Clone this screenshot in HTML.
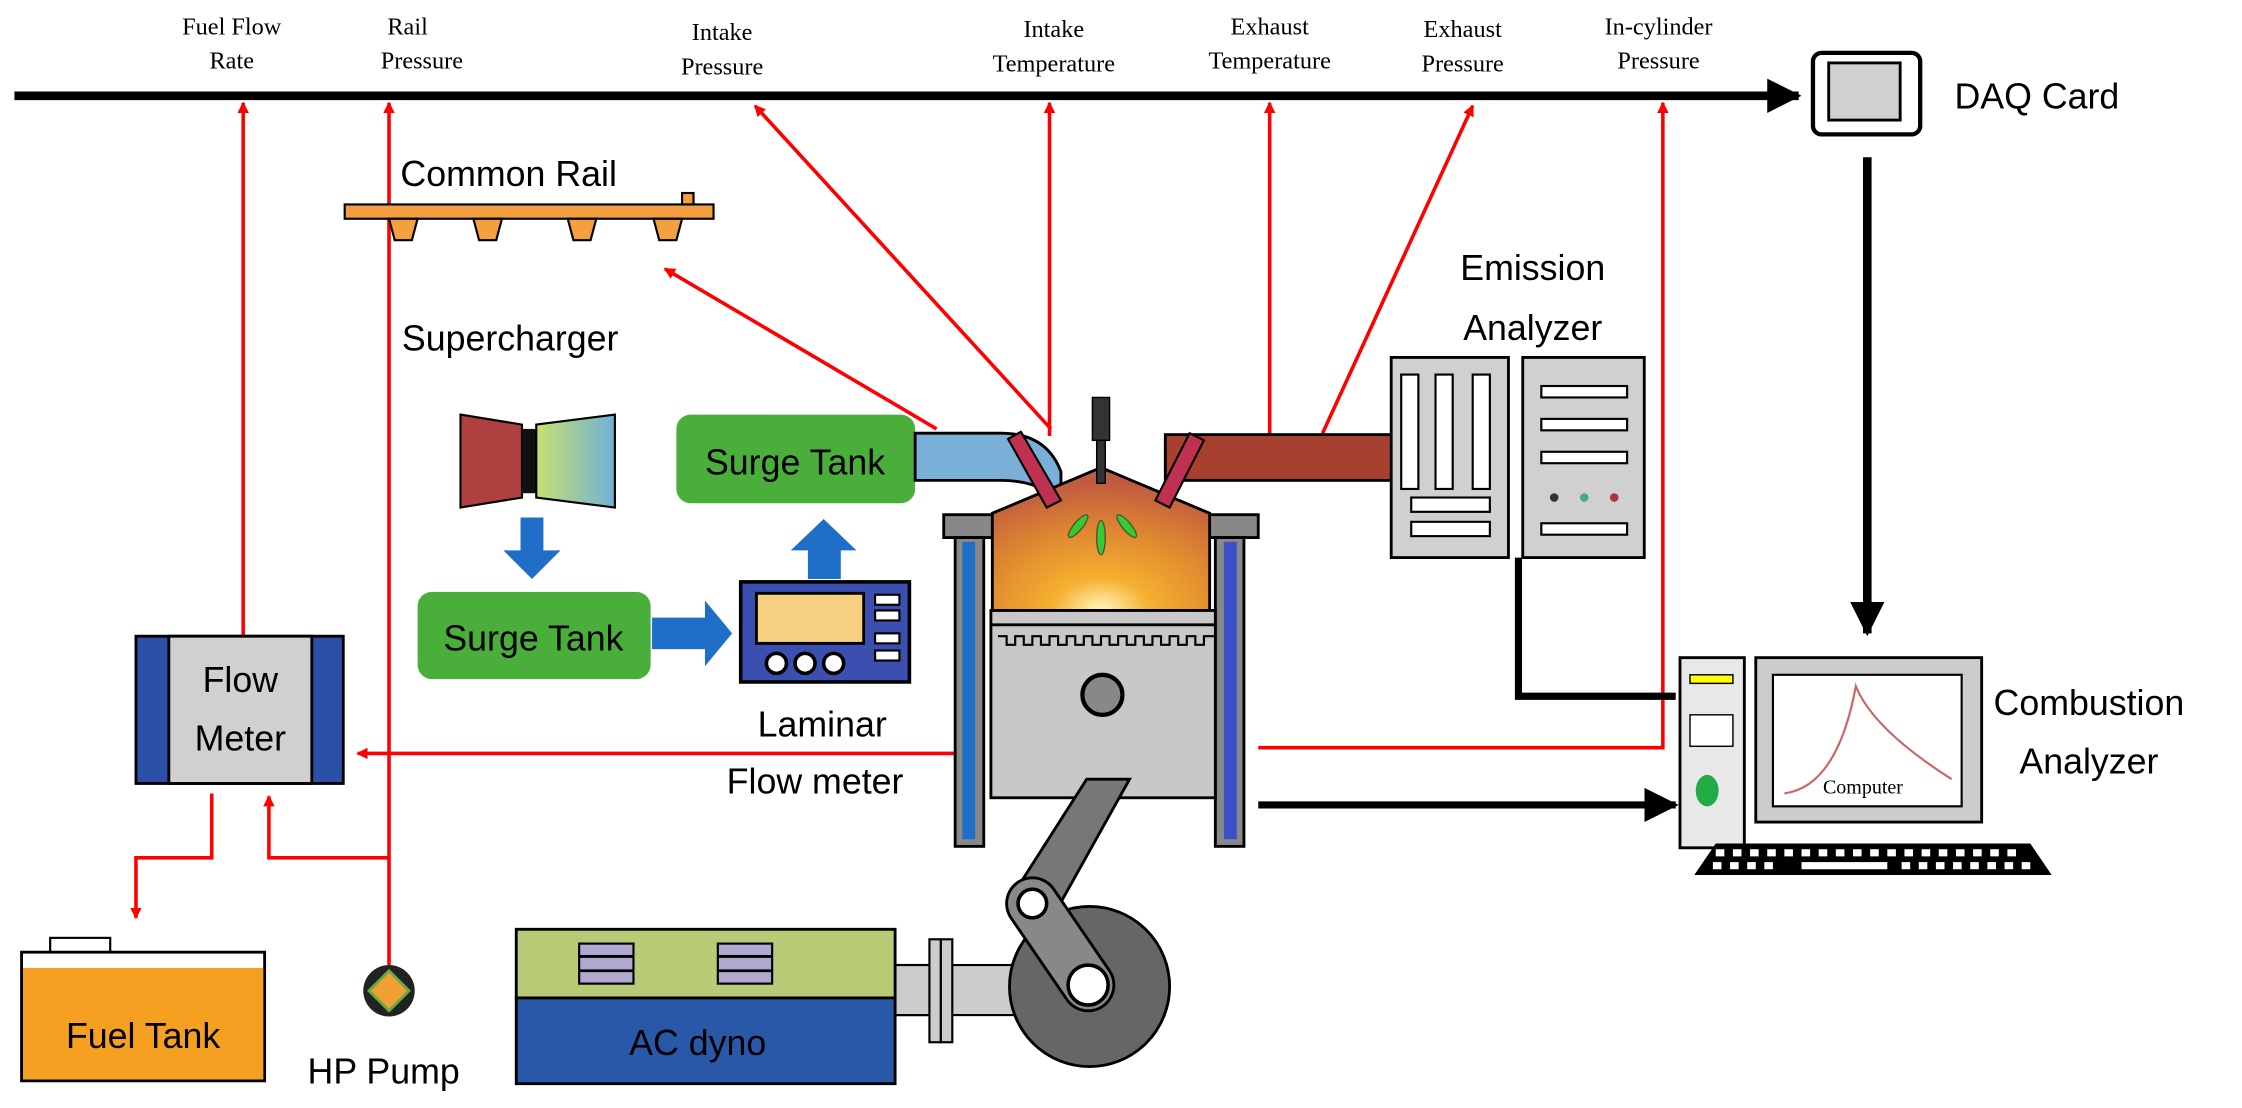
<!DOCTYPE html>
<html><head><meta charset="utf-8"><style>
html,body{margin:0;padding:0;background:#fff;}
svg{display:block}
.s{font-family:"Liberation Serif",serif;font-size:17px;fill:#000}
.t{font-family:"Liberation Sans",sans-serif;font-size:25px;fill:#000}
</style></head><body>
<svg width="2242" height="1108" viewBox="0 0 1568 775" xmlns="http://www.w3.org/2000/svg">
<defs>
<marker id="ra" markerWidth="8" markerHeight="8" refX="7" refY="4" orient="auto" markerUnits="userSpaceOnUse"><path d="M0,0 L8,4 L0,8 Z" fill="#f00"/></marker>
<marker id="ba" markerWidth="24" markerHeight="24" refX="22" refY="12" orient="auto" markerUnits="userSpaceOnUse"><path d="M0,0 L24,12 L0,24 Z" fill="#000"/></marker>
<radialGradient id="fire" cx="0.5" cy="1" r="0.9"><stop offset="0" stop-color="#fff8c0"/><stop offset="0.25" stop-color="#f5b030"/><stop offset="0.6" stop-color="#e08a30"/><stop offset="1" stop-color="#c05a40"/></radialGradient>
<linearGradient id="sc" x1="0" x2="1"><stop offset="0" stop-color="#c8e070"/><stop offset="1" stop-color="#70b0d8"/></linearGradient>
</defs>

<text class="s" x="162" y="24" text-anchor="middle">Fuel Flow</text>
<text class="s" x="162" y="48" text-anchor="middle">Rate</text>
<text class="s" x="285" y="24" text-anchor="middle">Rail</text>
<text class="s" x="295" y="48" text-anchor="middle">Pressure</text>
<text class="s" x="505" y="28" text-anchor="middle">Intake</text>
<text class="s" x="505" y="52" text-anchor="middle">Pressure</text>
<text class="s" x="737" y="26" text-anchor="middle">Intake</text>
<text class="s" x="737" y="50" text-anchor="middle">Temperature</text>
<text class="s" x="888" y="24" text-anchor="middle">Exhaust</text>
<text class="s" x="888" y="48" text-anchor="middle">Temperature</text>
<text class="s" x="1023" y="26" text-anchor="middle">Exhaust</text>
<text class="s" x="1023" y="50" text-anchor="middle">Pressure</text>
<text class="s" x="1160" y="24" text-anchor="middle">In-cylinder</text>
<text class="s" x="1160" y="48" text-anchor="middle">Pressure</text>

<line x1="10" y1="67" x2="1258" y2="67" stroke="#000" stroke-width="6" marker-end="url(#ba)"/>

<rect x="1268" y="37" width="75" height="57" rx="6" fill="#fff" stroke="#000" stroke-width="3"/>
<rect x="1279" y="44" width="50" height="40" fill="#d0d0d0" stroke="#000" stroke-width="2"/>
<text class="t" x="1367" y="76">DAQ Card</text>
<line x1="1306" y1="110" x2="1306" y2="443" stroke="#000" stroke-width="6" marker-end="url(#ba)"/>

<g stroke="#f00" stroke-width="2.5" fill="none">
<line x1="170" y1="445" x2="170" y2="72" marker-end="url(#ra)"/>
<line x1="272" y1="675" x2="272" y2="72" marker-end="url(#ra)"/>
<line x1="735" y1="300" x2="528" y2="74" marker-end="url(#ra)"/>
<line x1="734" y1="305" x2="734" y2="72" marker-end="url(#ra)"/>
<line x1="888" y1="303" x2="888" y2="72" marker-end="url(#ra)"/>
<line x1="925" y1="303" x2="1030" y2="74" marker-end="url(#ra)"/>
<polyline points="880,523 1163,523 1163,72" marker-end="url(#ra)"/>
<line x1="655" y1="300" x2="465" y2="188" marker-end="url(#ra)"/>
<line x1="680" y1="527" x2="250" y2="527" marker-end="url(#ra)"/>
<polyline points="148,555 148,600 95,600 95,642" marker-end="url(#ra)"/>
<polyline points="272,600 188,600 188,557" marker-end="url(#ra)"/>
</g>

<text class="t" x="280" y="130">Common Rail</text>
<rect x="241" y="143" width="258" height="10" fill="#f5a040" stroke="#000" stroke-width="1.5"/>
<rect x="477" y="135" width="8" height="8" fill="#f5a040" stroke="#000" stroke-width="1.5"/>
<g fill="#f5a040" stroke="#000" stroke-width="1.5">
<path d="M272,153 L292,153 L288,168 L276,168 Z"/>
<path d="M331,153 L351,153 L347,168 L335,168 Z"/>
<path d="M397,153 L417,153 L413,168 L401,168 Z"/>
<path d="M457,153 L477,153 L473,168 L461,168 Z"/>
</g>

<text class="t" x="281" y="245">Supercharger</text>
<path d="M322,290 L365,297 L365,348 L322,355 Z" fill="#b04040" stroke="#000" stroke-width="1.5"/>
<rect x="365" y="300" width="10" height="45" fill="#111"/>
<path d="M375,297 L430,290 L430,355 L375,348 Z" fill="url(#sc)" stroke="#000" stroke-width="1.5"/>
<path d="M364,362 L380,362 L380,385 L392,385 L372,405 L352,385 L364,385 Z" fill="#1f6fc8"/>

<rect x="292" y="414" width="163" height="61" rx="10" fill="#4aae3a"/>
<text class="t" x="373" y="455" text-anchor="middle">Surge Tank</text>
<path d="M456,432 L493,432 L493,420 L512,443 L493,466 L493,454 L456,454 Z" fill="#1f6fc8"/>
<rect x="473" y="290" width="167" height="62" rx="10" fill="#4aae3a"/>
<text class="t" x="556" y="332" text-anchor="middle">Surge Tank</text>
<path d="M565,405 L565,385 L553,385 L576,363 L599,385 L588,385 L588,405 Z" fill="#1f6fc8"/>

<rect x="518" y="407" width="118" height="70" fill="#3a4fb0" stroke="#000" stroke-width="2.5"/>
<rect x="529" y="415" width="75" height="35" fill="#f7cf80" stroke="#000" stroke-width="2"/>
<g fill="#fff" stroke="#000" stroke-width="2.5"><circle cx="543" cy="464" r="7"/><circle cx="563" cy="464" r="7"/><circle cx="583" cy="464" r="7"/></g>
<g fill="#fff" stroke="#000" stroke-width="1.5"><rect x="612" y="416" width="17" height="7"/><rect x="612" y="427" width="17" height="7"/><rect x="612" y="443" width="17" height="7"/><rect x="612" y="455" width="17" height="7"/></g>
<text class="t" x="575" y="515" text-anchor="middle">Laminar</text>
<text class="t" x="570" y="555" text-anchor="middle">Flow meter</text>

<!-- intake pipe -->
<path d="M640,303 L700,303 Q732,303 742,330 L742,352 Q728,336 700,336 L640,336 Z" fill="#7ab0d8" stroke="#000" stroke-width="2"/>
<!-- exhaust pipe -->
<rect x="815" y="304" width="160" height="32" fill="#a84030" stroke="#000" stroke-width="2"/>

<!-- engine -->
<rect x="660" y="360" width="220" height="16" fill="#888" stroke="#000" stroke-width="2"/>
<rect x="668" y="376" width="20" height="216" fill="#888" stroke="#000" stroke-width="2"/>
<rect x="673" y="379" width="9" height="208" fill="#1f6fc8"/>
<rect x="850" y="376" width="20" height="216" fill="#888" stroke="#000" stroke-width="2"/>
<rect x="856" y="379" width="9" height="208" fill="#3a4fc8"/>
<path d="M694,359 L770,327 L846,359 L846,427 L694,427 Z" fill="url(#fire)" stroke="#000" stroke-width="2"/>
<rect x="764" y="278" width="12" height="30" fill="#333" stroke="#000" stroke-width="1"/>
<rect x="767" y="308" width="6" height="30" fill="#333" stroke="#000" stroke-width="1"/>
<path d="M705,307 L714,302 L742,350 L732,355 Z" fill="#c03050" stroke="#000" stroke-width="1.5"/>
<path d="M832,303 L842,308 L818,355 L808,350 Z" fill="#c03050" stroke="#000" stroke-width="1.5"/>
<g fill="#3c3" stroke="#553" stroke-width="1"><ellipse cx="770" cy="376" rx="3" ry="12"/><ellipse cx="754" cy="368" rx="3" ry="10" transform="rotate(40 754 368)"/><ellipse cx="788" cy="368" rx="3" ry="10" transform="rotate(-40 788 368)"/></g>
<rect x="693" y="427" width="157" height="131" fill="#c8c8c8" stroke="#000" stroke-width="2"/>
<line x1="693" y1="437" x2="850" y2="437" stroke="#000" stroke-width="2"/>
<path d="M698,445 h6 v6 h6 v-6 h6 v6 h6 v-6 h6 v6 h6 v-6 h6 v6 h6 v-6 h6 v6 h6 v-6 h6 v6 h6 v-6 h6 v6 h6 v-6 h6 v6 h6 v-6 h6 v6 h6 v-6 h6 v6 h6 v-6 h6 v6 h6 v-6 h6 v6 h6 v-6 h7" fill="none" stroke="#000" stroke-width="1.5"/>
<circle cx="771" cy="486" r="14" fill="#888" stroke="#000" stroke-width="3"/>

<!-- shaft & coupler -->
<rect x="625" y="675" width="115" height="35" fill="#ccc" stroke="#000" stroke-width="1.5"/>
<!-- crank wheel -->
<circle cx="762" cy="690" r="56" fill="#666" stroke="#000" stroke-width="2"/>
<rect x="624" y="675" width="30" height="35" fill="#ccc" stroke="#000" stroke-width="1.5"/>
<rect x="650" y="657" width="8" height="72" fill="#ccc" stroke="#000" stroke-width="1.5"/>
<rect x="658" y="657" width="8" height="72" fill="#ccc" stroke="#000" stroke-width="1.5"/>
<!-- conrod -->
<path d="M760,545 L790,545 L737,640 L707,628 Z" fill="#777" stroke="#000" stroke-width="2"/>
<!-- crank arm -->
<line x1="722" y1="632" x2="761" y2="689" stroke="#000" stroke-width="38" stroke-linecap="round"/>
<line x1="722" y1="632" x2="761" y2="689" stroke="#888" stroke-width="34" stroke-linecap="round"/>
<circle cx="722" cy="632" r="10" fill="#fff" stroke="#000" stroke-width="2.5"/>
<circle cx="761" cy="689" r="14" fill="#fff" stroke="#000" stroke-width="2.5"/>

<rect x="361" y="650" width="265" height="48" fill="#b8cc78" stroke="#000" stroke-width="2"/>
<rect x="361" y="698" width="265" height="60" fill="#2a58a8" stroke="#000" stroke-width="2"/>
<g fill="#b0a8d0" stroke="#000" stroke-width="1.5"><rect x="405" y="660" width="38" height="28"/><rect x="502" y="660" width="38" height="28"/></g>
<g stroke="#000" stroke-width="2"><line x1="405" y1="669" x2="443" y2="669"/><line x1="405" y1="679" x2="443" y2="679"/><line x1="502" y1="669" x2="540" y2="669"/><line x1="502" y1="679" x2="540" y2="679"/></g>
<text class="t" x="440" y="738">AC dyno</text>

<rect x="95" y="445" width="145" height="103" fill="#2a50a8" stroke="#000" stroke-width="2"/>
<rect x="118" y="445" width="100" height="103" fill="#d0d0d0" stroke="#000" stroke-width="2"/>
<text class="t" x="168" y="484" text-anchor="middle">Flow</text>
<text class="t" x="168" y="525" text-anchor="middle">Meter</text>

<rect x="35" y="656" width="42" height="10" fill="#fff" stroke="#000" stroke-width="1.5"/>
<rect x="15" y="666" width="170" height="90" fill="#fff" stroke="#000" stroke-width="2"/>
<rect x="16" y="677" width="168" height="78" fill="#f5a020"/>
<text class="t" x="100" y="733" text-anchor="middle">Fuel Tank</text>

<circle cx="272" cy="693" r="18" fill="#222"/>
<path d="M272,679 L286,693 L272,707 L258,693 Z" fill="#f0a030" stroke="#6a4" stroke-width="2"/>
<text class="t" x="215" y="758">HP Pump</text>

<text class="t" x="1072" y="196" text-anchor="middle">Emission</text>
<text class="t" x="1072" y="238" text-anchor="middle">Analyzer</text>
<rect x="973" y="250" width="82" height="140" fill="#d0d0d0" stroke="#000" stroke-width="2"/>
<g fill="#fff" stroke="#000" stroke-width="1.5"><rect x="980" y="262" width="12" height="80"/><rect x="1004" y="262" width="12" height="80"/><rect x="1030" y="262" width="12" height="80"/><rect x="987" y="348" width="55" height="10"/><rect x="987" y="365" width="55" height="10"/></g>
<rect x="1065" y="250" width="85" height="140" fill="#d0d0d0" stroke="#000" stroke-width="2"/>
<g fill="#fff" stroke="#000" stroke-width="1.5"><rect x="1078" y="270" width="60" height="8"/><rect x="1078" y="293" width="60" height="8"/><rect x="1078" y="316" width="60" height="8"/><rect x="1078" y="366" width="60" height="8"/></g>
<circle cx="1087" cy="348" r="3" fill="#333"/><circle cx="1108" cy="348" r="3" fill="#4a8"/><circle cx="1129" cy="348" r="3" fill="#a34"/>
<polyline points="1062,390 1062,487 1172,487" fill="none" stroke="#000" stroke-width="5"/>
<line x1="880" y1="563" x2="1172" y2="563" stroke="#000" stroke-width="5" marker-end="url(#ba)"/>

<rect x="1175" y="460" width="45" height="133" fill="#e8e8e8" stroke="#000" stroke-width="2"/>
<rect x="1182" y="472" width="30" height="6" fill="#ff0" stroke="#000" stroke-width="1"/>
<rect x="1182" y="500" width="30" height="22" fill="#fff" stroke="#000" stroke-width="1"/>
<ellipse cx="1194" cy="553" rx="8" ry="11" fill="#2a4"/>
<rect x="1228" y="460" width="158" height="115" fill="#ccc" stroke="#000" stroke-width="2"/>
<rect x="1240" y="472" width="132" height="92" fill="#fff" stroke="#000" stroke-width="1.5"/>
<path d="M1248,555 Q1285,550 1298,480 Q1310,510 1365,545" fill="none" stroke="#c66" stroke-width="1.5"/>
<text x="1275" y="555" font-family="Liberation Serif,serif" font-size="14">Computer</text>
<path d="M1200,590 L1420,590 L1435,612 L1185,612 Z" fill="#000"/>
<g fill="#fff"><rect x="1200" y="594" width="6" height="5"/><rect x="1212" y="594" width="6" height="5"/><rect x="1224" y="594" width="6" height="5"/><rect x="1236" y="594" width="6" height="5"/><rect x="1248" y="594" width="6" height="5"/><rect x="1260" y="594" width="6" height="5"/><rect x="1272" y="594" width="6" height="5"/><rect x="1284" y="594" width="6" height="5"/><rect x="1296" y="594" width="6" height="5"/><rect x="1308" y="594" width="6" height="5"/><rect x="1320" y="594" width="6" height="5"/><rect x="1332" y="594" width="6" height="5"/><rect x="1344" y="594" width="6" height="5"/><rect x="1356" y="594" width="6" height="5"/><rect x="1368" y="594" width="6" height="5"/><rect x="1380" y="594" width="6" height="5"/><rect x="1392" y="594" width="6" height="5"/><rect x="1404" y="594" width="6" height="5"/>
<rect x="1198" y="603" width="6" height="5"/><rect x="1210" y="603" width="6" height="5"/><rect x="1222" y="603" width="6" height="5"/><rect x="1234" y="603" width="6" height="5"/><rect x="1260" y="603" width="60" height="5"/><rect x="1330" y="603" width="6" height="5"/><rect x="1342" y="603" width="6" height="5"/><rect x="1354" y="603" width="6" height="5"/><rect x="1366" y="603" width="6" height="5"/><rect x="1378" y="603" width="6" height="5"/><rect x="1390" y="603" width="6" height="5"/><rect x="1402" y="603" width="6" height="5"/><rect x="1414" y="603" width="6" height="5"/></g>
<text class="t" x="1461" y="500" text-anchor="middle">Combustion</text>
<text class="t" x="1461" y="541" text-anchor="middle">Analyzer</text>
</svg>
</body></html>
